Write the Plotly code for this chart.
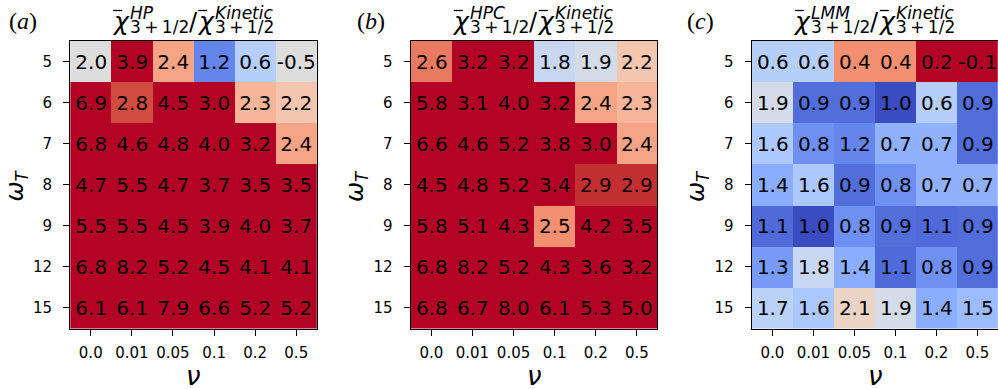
import math
import plotly.graph_objects as go

nu_labels = ["0.0", "0.01", "0.05", "0.1", "0.2", "0.5"]
omega_labels = ["5", "6", "7", "8", "9", "12", "15"]

hp_vals = [
    [2.0, 3.9, 2.4, 1.2, 0.6, -0.5],
    [6.9, 2.8, 4.5, 3.0, 2.3, 2.2],
    [6.8, 4.6, 4.8, 4.0, 3.2, 2.4],
    [4.7, 5.5, 4.7, 3.7, 3.5, 3.5],
    [5.5, 5.5, 4.5, 3.9, 4.0, 3.7],
    [6.8, 8.2, 5.2, 4.5, 4.1, 4.1],
    [6.1, 6.1, 7.9, 6.6, 5.2, 5.2],
]
hpc_vals = [
    [2.6, 3.2, 3.2, 1.8, 1.9, 2.2],
    [5.8, 3.1, 4.0, 3.2, 2.4, 2.3],
    [6.6, 4.6, 5.2, 3.8, 3.0, 2.4],
    [4.5, 4.8, 5.2, 3.4, 2.9, 2.9],
    [5.8, 5.1, 4.3, 2.5, 4.2, 3.5],
    [6.8, 8.2, 5.2, 4.3, 3.6, 3.2],
    [6.8, 6.7, 8.0, 6.1, 5.3, 5.0],
]
lmm_vals = [
    [0.6, 0.6, 0.4, 0.4, 0.2, -0.1],
    [1.9, 0.9, 0.9, 1.0, 0.6, 0.9],
    [1.6, 0.8, 1.2, 0.7, 0.7, 0.9],
    [1.4, 1.6, 0.9, 0.8, 0.7, 0.7],
    [1.1, 1.0, 0.8, 0.9, 1.1, 0.9],
    [1.3, 1.8, 1.4, 1.1, 0.8, 0.9],
    [1.7, 1.6, 2.1, 1.9, 1.4, 1.5],
]
panel_sups = ["HP", "HPC", "LMM"]
panel_tags = ["a", "b", "c"]

# matplotlib-like coolwarm
coolwarm = [
    (59, 76, 192), (68, 90, 204), (77, 104, 215), (87, 117, 225), (98, 130, 234),
    (108, 142, 241), (119, 154, 247), (130, 165, 251), (141, 176, 254), (152, 185, 255),
    (163, 194, 255), (174, 201, 253), (184, 208, 249), (194, 213, 244), (204, 217, 238),
    (213, 219, 230), (221, 221, 221), (229, 216, 209), (236, 211, 197), (241, 204, 185),
    (245, 196, 173), (247, 187, 160), (247, 177, 148), (247, 166, 135), (244, 154, 123),
    (241, 141, 111), (236, 127, 99), (229, 112, 88), (222, 96, 77), (213, 80, 66),
    (203, 62, 56), (192, 40, 47), (180, 4, 38),
]
cscale = [[i / (len(coolwarm) - 1), "rgb(%d,%d,%d)" % c] for i, c in enumerate(coolwarm)]

LN2, LN3 = math.log(2), math.log(3)


def color_level(v):
    L = abs(math.log(abs(v)))
    if L <= LN2:
        return 0.5 * L / LN2
    return min(1.0, 0.5 + 0.5 * (L - LN2) / (LN3 - LN2))


W, H = 998, 389


def px(x):
    return x / W


def py(y):
    return 1 - y / H


panel_left = [70.2, 410.8, 751.8]
panel_w = 246.6
top, bottom = 41.0, 328.5
tag_x = [7, 355, 685]

fig = go.Figure()
font = "DejaVu Sans"
annotations = []
shapes = []
for i, vals in enumerate([hp_vals, hpc_vals, lmm_vals]):
    ax = "" if i == 0 else str(i + 1)
    z = [[color_level(v) for v in row] for row in vals]
    txt = [["%.1f" % v for v in row] for row in vals]
    fig.add_trace(go.Heatmap(
        z=z, x=nu_labels, y=omega_labels, text=txt, texttemplate="%{text}",
        textfont=dict(family=font, size=20, color="black"),
        colorscale=cscale, zmin=0, zmax=1, showscale=False,
        xaxis="x" + ax, yaxis="y" + ax, hoverinfo="skip",
    ))
    l = panel_left[i]
    r = min(l + panel_w, W)
    axis_common = dict(
        showline=True, mirror=True, linecolor="black", linewidth=1.3,
        ticks="outside", ticklen=6, tickwidth=1.3, tickcolor="black",
        showgrid=False, zeroline=False,
        tickfont=dict(family=font, size=15, color="black"),
    )
    fig.layout["xaxis" + ax] = dict(domain=[px(l), px(r)], anchor="y" + ax,
                                    type="category", ticklabelstandoff=4, **axis_common)
    fig.layout["yaxis" + ax] = dict(domain=[py(bottom), py(top)], anchor="x" + ax,
                                    type="category", autorange="reversed",
                                    ticklabelstandoff=8, **axis_common)
    # title pieces
    x0 = l + 41.5
    chi = "\u03c7"
    pieces = [
        (x0 - 2, 21.5, chi, 25, "italic"),
        (x0 + 16, 12.5, panel_sups[i], 17, "italic"),
        (x0 + 16, 27.5, "3\u2009+\u20091/2", 17, "normal"),
        (x0 + 75, 22, "/", 24, "normal"),
        (x0 + 83, 21.5, chi, 25, "italic"),
        (x0 + 101, 12.5, "Kinetic", 17, "italic"),
        (x0 + 101, 27.5, "3\u2009+\u20091/2", 17, "normal"),
    ]
    for (xx, yy, t, s, st) in pieces:
        annotations.append(dict(x=px(xx), y=py(yy), xref="paper", yref="paper",
                                text=t, showarrow=False, xanchor="left", yanchor="middle",
                                font=dict(family=font, size=s, color="black", style=st)))
    for bx in (x0, x0 + 85):
        shapes.append(dict(type="line", xref="paper", yref="paper",
                           x0=px(bx + 1.5), x1=px(bx + 10.5), y0=py(10.5), y1=py(10.5),
                           line=dict(color="black", width=1.3)))
    # panel tag
    annotations.append(dict(x=px(tag_x[i]), y=py(21), xref="paper", yref="paper",
                            text="(<i>%s</i>)" % panel_tags[i], showarrow=False,
                            xanchor="left", yanchor="middle",
                            font=dict(family="Liberation Serif", size=24, color="black")))
    # y label
    annotations.append(dict(x=px(l - 54.7), y=py(186), xref="paper", yref="paper",
                            text="\u03c9<sub>T</sub>", showarrow=False, textangle=-90,
                            xanchor="center", yanchor="middle",
                            font=dict(family=font, size=24, color="black", style="italic")))
    # x label
    annotations.append(dict(x=px(l + panel_w / 2), y=py(376), xref="paper", yref="paper",
                            text="\u03bd", showarrow=False,
                            xanchor="center", yanchor="middle",
                            font=dict(family=font, size=26, color="black", style="italic")))

fig.update_layout(width=W, height=H, margin=dict(l=0, r=0, t=0, b=0),
                  paper_bgcolor="white", plot_bgcolor="white",
                  annotations=annotations, shapes=shapes)
fig.write_html("out.html", config={"displayModeBar": False},
               post_script="document.body.style.margin='0px';document.body.style.overflow='hidden';")
